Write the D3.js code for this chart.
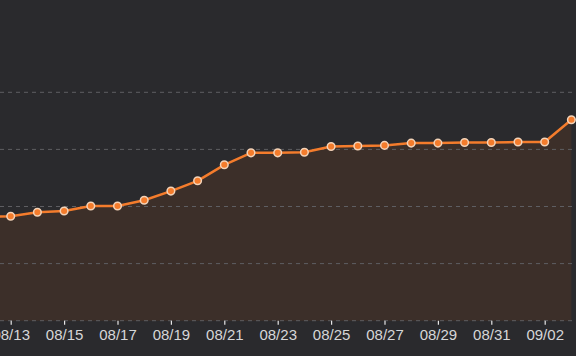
<!DOCTYPE html>
<html>
<head>
<meta charset="utf-8">
<script src="https://cdn.jsdelivr.net/npm/d3@7"></script>
<style>
  html, body { margin: 0; padding: 0; background: #2a2a2d; overflow: hidden; }
  svg { display: block; }
</style>
</head>
<body>
<svg id="chart" width="576" height="356"></svg>
<script>
const categories = ["08/12","08/13","08/14","08/15","08/16","08/17","08/18","08/19","08/20","08/21","08/22","08/23","08/24","08/25","08/26","08/27","08/28","08/29","08/30","08/31","09/01","09/02","09/03"];
const values = [182,183,190,192,201,201,211,227,245,273,294,294,295,305,306,307,311,311,312,312,313,313,352];
const tickLabels = ["08/13","08/15","08/17","08/19","08/21","08/23","08/25","08/27","08/29","08/31","09/02"];
const yTicks = [0,100,200,300,400];

const W = 576, H = 356;
const svg = d3.select("#chart");
svg.append("rect").attr("width", W).attr("height", H).attr("fill", "#2a2a2d");

const x = d3.scalePoint().domain(categories).range([-16, 571.4]);
const y = d3.scaleLinear().domain([0, 400]).range([320.7, 92.3]);

const data = categories.map((c, i) => ({ c, v: values[i] }));

// area
svg.append("path")
  .datum(data)
  .attr("fill", "#3c2f29")
  .attr("d", d3.area().x(d => x(d.c)).y0(y(0)).y1(d => y(d.v)));

// gridlines
svg.append("g").selectAll("line").data(yTicks).join("line")
  .attr("x1", 0).attr("x2", W)
  .attr("y1", d => y(d)).attr("y2", d => y(d))
  .attr("stroke", "#5e5e62").attr("stroke-width", 1)
  .attr("stroke-dasharray", "4,4");

// x axis
const xAxis = svg.append("g")
  .attr("transform", `translate(0,${y(0)})`)
  .call(d3.axisBottom(x).tickValues(tickLabels).tickSize(4).tickPadding(5));
xAxis.select(".domain").remove();
xAxis.selectAll(".tick line").attr("stroke", "#e6e6e6").attr("stroke-width", 1.2);
xAxis.selectAll(".tick text")
  .attr("fill", "#d6d6d8")
  .style("font-family", "'Liberation Sans', Arial, sans-serif")
  .style("font-size", "15px");

// line
svg.append("path")
  .datum(data)
  .attr("fill", "none")
  .attr("stroke", "#f47c2c")
  .attr("stroke-width", 2.5)
  .attr("stroke-linejoin", "round")
  .attr("d", d3.line().x(d => x(d.c)).y(d => y(d.v)));

// points
svg.append("g").selectAll("circle").data(data).join("circle")
  .attr("cx", d => x(d.c)).attr("cy", d => y(d.v))
  .attr("r", 3.8)
  .attr("fill", "#f47c2c")
  .attr("stroke", "#f3d3b8")
  .attr("stroke-width", 1.5);
</script>
</body>
</html>
